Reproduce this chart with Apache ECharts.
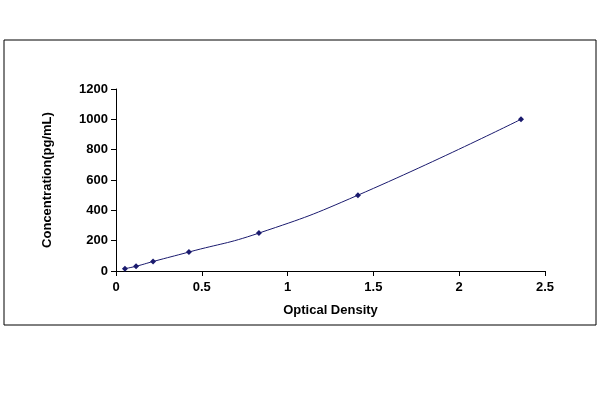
<!DOCTYPE html>
<html><head><meta charset="utf-8">
<script src="https://cdn.jsdelivr.net/npm/echarts@6/dist/echarts.min.js"></script>
<style>html,body{margin:0;padding:0;background:#fff}#c{width:600px;height:400px}</style>
</head><body><div id="c"></div>
<script>
const od = [0.052, 0.117, 0.216, 0.425, 0.833, 1.41, 2.36];
const conc = [15.6, 31.2, 62.5, 125, 250, 500, 1000];
const xTicks = [0, 0.5, 1, 1.5, 2, 2.5];
const yTicks = [0, 200, 400, 600, 800, 1000, 1200];
const chart = echarts.init(document.getElementById('c'));
const f = {fontFamily:'Liberation Sans, Arial', fontWeight:'bold', fontSize:13, color:'#000'};
chart.setOption({
  animation:false,
  graphic:[{type:'rect',shape:{x:4,y:40,width:592,height:285},style:{fill:'none',stroke:'#000',lineWidth:1}}],
  grid:{left:116,right:55,top:89,bottom:129},
  xAxis:{type:'value',min:0,max:2.5,interval:0.5,name:'Optical Density',nameLocation:'middle',nameGap:33,
    nameTextStyle:f,axisLabel:Object.assign({},f,{margin:10,formatter:v=>String(v)}),
    axisLine:{lineStyle:{color:'#000'}},axisTick:{inside:false,lineStyle:{color:'#000'}},splitLine:{show:false}},
  yAxis:{type:'value',min:0,max:1200,interval:200,name:'Concentration(pg/mL)',nameLocation:'middle',nameGap:62,
    nameTextStyle:f,axisLabel:Object.assign({},f,{formatter:v=>String(v)}),axisLine:{show:true,lineStyle:{color:'#000'}},axisTick:{show:true,lineStyle:{color:'#000'}},splitLine:{show:false}},
  series:[{type:'line',smooth:true,data:od.map((x,i)=>[x,conc[i]]),symbol:'diamond',symbolSize:6,
    itemStyle:{color:'#1a1a6e'},lineStyle:{color:'#1a1a6e',width:1}}]
});
</script></body></html>
